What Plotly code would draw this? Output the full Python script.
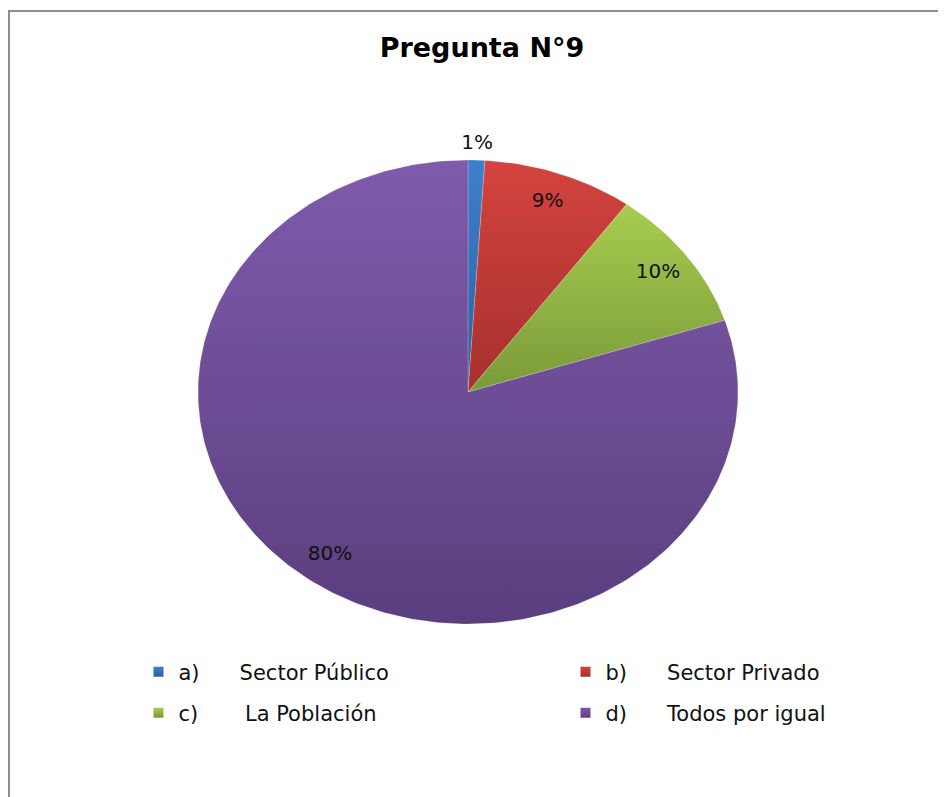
"""Pregunta N°9 - elliptical pie chart with vertical gradient fills."""

import math

import plotly.graph_objects as go

# data
labels = ["a)", "b)", "c)", "d)"]
names = ["Sector Público", "Sector Privado", "\u00a0La Población", "Todos por igual"]
values = [1, 9, 10, 80]
colors_top = ["#3f7fcc", "#d4433f", "#a8cc50", "#7f5bab"]
colors_bottom = ["#2d5f9e", "#a6302e", "#7a9a38", "#5b3e7f"]

W, H = 946, 797
OFF = 8  # page body margin; positions below are page pixels minus this
CX, CY = 468 - OFF, 392 - OFF  # pie centre in figure pixels
RX, RY = 270, 232  # ellipse radii in pixels

total = sum(values)

fig = go.Figure()

# wedges, clockwise from 12 o'clock
start = 0.0
label_x, label_y, label_txt = [], [], []
for v, ct, cb in zip(values, colors_top, colors_bottom):
    a0 = start / total * 2 * math.pi
    a1 = (start + v) / total * 2 * math.pi
    n = max(4, int((a1 - a0) / (2 * math.pi) * 360))
    xs, ys = [0.0], [0.0]
    for k in range(n + 1):
        t = a0 + (a1 - a0) * k / n
        xs.append(math.sin(t))
        ys.append(math.cos(t))
    xs.append(0.0)
    ys.append(0.0)
    fig.add_trace(
        go.Scatter(
            x=xs,
            y=ys,
            mode="lines",
            fill="toself",
            line={"width": 0.6, "color": "rgba(255,255,255,0.35)"},
            fillcolor=ct,
            fillgradient={
                "type": "vertical",
                "colorscale": [[0, cb], [1, ct]],
            },
            showlegend=False,
            hoverinfo="skip",
        )
    )
    # data label (small slices go just outside, like Excel's best fit)
    pct = v / total * 100
    mid = (a0 + a1) / 2
    r = 0.87 if pct >= 5 else 1.07
    label_x.append(r * math.sin(mid))
    label_y.append(r * math.cos(mid))
    label_txt.append(f"{pct:.0f}%")
    start += v

fig.add_trace(
    go.Scatter(
        x=label_x,
        y=label_y,
        mode="text",
        text=label_txt,
        textfont={"family": "DejaVu Sans", "size": 20, "color": "#111111"},
        showlegend=False,
        hoverinfo="skip",
    )
)

# one legend per entry so the 2x2 grid sits exactly where Excel put it
legend_pos = [(130.5, 664), (557.5, 664), (130.5, 705), (557.5, 705)]
legend_ids = ["legend", "legend2", "legend3", "legend4"]
gap = "\u00a0" * 6

for lab, name, ct, cb, lid in zip(labels, names, colors_top, colors_bottom, legend_ids):
    fig.add_trace(
        go.Scatter(
            x=[None],
            y=[None],
            mode="markers",
            name=f"{lab}{gap}{name}",
            marker={
                "symbol": "square",
                "size": 10,
                "color": ct,
                "gradient": {"type": "vertical", "color": cb},
            },
            legend=lid,
        )
    )

legends = {}
for lid, (lx, ly) in zip(legend_ids, legend_pos):
    legends[lid] = {
        "orientation": "h",
        "xanchor": "left",
        "yanchor": "middle",
        "x": lx / W,
        "y": 1 - ly / H,
        "bgcolor": "rgba(0,0,0,0)",
        "itemwidth": 30,
        "font": {"family": "DejaVu Sans", "size": 21, "color": "#111111"},
    }

fig.update_layout(
    width=W,
    height=H,
    margin={"l": 0, "r": 0, "t": 0, "b": 0},
    paper_bgcolor="white",
    plot_bgcolor="white",
    title={
        "text": "<b>Pregunta N°9</b>",
        "x": (482 - OFF) / W,
        "xanchor": "center",
        "y": 1 - (48 - OFF) / H,
        "yanchor": "middle",
        "font": {"family": "DejaVu Sans", "size": 27, "color": "#000000"},
    },
    xaxis={
        "range": [-CX / RX, (W - CX) / RX],
        "visible": False,
        "fixedrange": True,
    },
    yaxis={
        "range": [-(H - CY) / RY, CY / RY],
        "visible": False,
        "fixedrange": True,
    },
    shapes=[
        {
            "type": "rect",
            "xref": "paper",
            "yref": "paper",
            "x0": 1 / W,
            "x1": 1.05,
            "y0": -0.05,
            "y1": 1 - 3 / H,
            "line": {"color": "#8c8c8c", "width": 2},
        }
    ],
    **legends,
)

fig.write_html("out.html")
